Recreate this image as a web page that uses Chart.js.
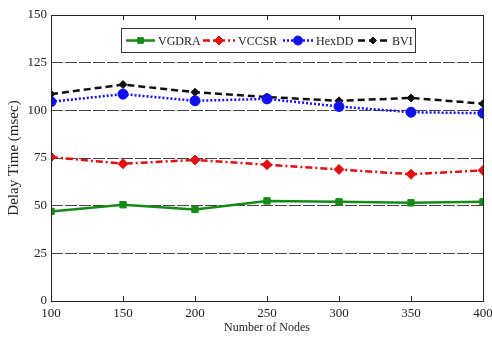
<!DOCTYPE html>
<html>
<head>
<meta charset="utf-8">
<script src="https://cdn.jsdelivr.net/npm/chart.js@4/dist/chart.umd.min.js"></script>
<style>
  html, body { margin: 0; padding: 0; background: #fff; }
  #wrap { width: 492px; height: 337px; }
</style>
</head>
<body>
<div id="wrap"><canvas id="chart"></canvas></div>
<script>
// --- data ---
var nodes = [100, 150, 200, 250, 300, 350, 400];
var vgdra = [47, 50.5, 48, 52.5, 52, 51.5, 52];
var vccsr = [75.5, 72, 74, 71.5, 69, 66.5, 68.5];
var hexdd = [104.5, 108.5, 105, 106, 102, 99, 98.5];
var bvi = [108.5, 113.5, 109.5, 107, 105, 106.5, 103.5];
var yTicks = [0, 25, 50, 75, 100, 125, 150];

var FONT = '"Liberation Serif", "DejaVu Serif", serif';

function series(label, values, color, dash, marker, size) {
  return {
    label: label,
    data: values.map(function(v, i) { return { x: nodes[i], y: v }; }),
    borderColor: color,
    backgroundColor: color,
    borderWidth: 2.5,
    borderDash: dash,
    pointStyle: marker,
    pointRadius: size,
    pointBorderWidth: 1,
    tension: 0
  };
}

// legend slots: [line start, line end, text x]
var legendSlots = [[126, 155, 158], [203, 235, 238], [283, 313, 316], [358, 388, 392]];

// frame, inward x ticks and the legend box inside the plot
var boxPlugin = {
  id: 'boxPlugin',
  afterDatasetsDraw: function(chart) {
    var ctx = chart.ctx, a = chart.chartArea, xs = chart.scales.x;
    ctx.save();
    ctx.strokeStyle = '#222';
    ctx.lineWidth = 1;
    ctx.setLineDash([]);
    ctx.strokeRect(Math.round(a.left) + 0.5, Math.round(a.top) + 0.5,
      Math.round(a.right - a.left), Math.round(a.bottom - a.top));
    nodes.forEach(function(n) {
      var px = Math.round(xs.getPixelForValue(n)) + 0.5;
      ctx.beginPath();
      ctx.moveTo(px, a.top); ctx.lineTo(px, a.top + 5);
      ctx.moveTo(px, a.bottom); ctx.lineTo(px, a.bottom - 5);
      ctx.stroke();
    });

    var lx = 121, ly = 28, lw = 294, lh = 24;
    ctx.fillStyle = '#fff';
    ctx.fillRect(lx, ly, lw, lh);
    ctx.strokeStyle = '#333';
    ctx.strokeRect(lx + 0.5, ly + 0.5, lw, lh);
    ctx.font = '12px ' + FONT;
    ctx.textBaseline = 'middle';
    var cy = ly + lh / 2 + 0.5;
    chart.data.datasets.forEach(function(ds, i) {
      var s = legendSlots[i];
      ctx.strokeStyle = ds.borderColor;
      ctx.lineWidth = 2.5;
      ctx.setLineDash(ds.borderDash || []);
      ctx.beginPath();
      ctx.moveTo(s[0], cy); ctx.lineTo(s[1], cy);
      ctx.stroke();
      ctx.setLineDash([]);
      ctx.fillStyle = ds.borderColor;
      ctx.lineWidth = 1;
      Chart.helpers.drawPoint(ctx, {
        pointStyle: ds.pointStyle, radius: ds.pointRadius - 0.5, borderWidth: 1
      }, (s[0] + s[1]) / 2, cy);
      ctx.fillStyle = '#222';
      ctx.fillText(ds.label, s[2], cy + 1);
    });
    ctx.restore();
  }
};

new Chart(document.getElementById('chart').getContext('2d'), {
  type: 'line',
  data: {
    datasets: [
      series('VGDRA', vgdra, '#168a16', [], 'rect', 4.5),
      series('VCCSR', vccsr, '#e01010', [7, 3, 2, 3], 'rectRot', 5),
      series('HexDD', hexdd, '#1010f0', [2, 2], 'circle', 5),
      series('BVI', bvi, '#111111', [7, 4], 'rectRot', 4)
    ]
  },
  options: {
    responsive: true,
    maintainAspectRatio: false,
    animation: false,
    layout: { padding: { top: 15, right: 9, left: 0, bottom: 0 } },
    plugins: {
      legend: { display: false },
      tooltip: { enabled: false }
    },
    scales: {
      x: {
        type: 'linear',
        min: 100,
        max: 400,
        afterBuildTicks: function(s) { s.ticks = nodes.map(function(v) { return { value: v }; }); },
        afterFit: function(s) { s.height = 36; s.paddingLeft = 0; s.paddingRight = 0; },
        grid: { display: false, drawTicks: false },
        border: { display: false },
        ticks: { color: '#222', font: { family: FONT, size: 13 }, padding: 5, maxRotation: 0 },
        title: { display: true, text: 'Number of Nodes', color: '#222', font: { family: FONT, size: 12 }, padding: { top: 1, bottom: 2 } }
      },
      y: {
        min: 0,
        max: 150,
        afterBuildTicks: function(s) { s.ticks = yTicks.map(function(v) { return { value: v }; }); },
        afterFit: function(s) { s.width = 51; },
        grid: {
          color: function(c) { return (c.tick.value === 0 || c.tick.value === 150) ? 'rgba(0,0,0,0)' : '#444'; },
          lineWidth: 1,
          drawTicks: false
        },
        border: { display: false, dash: [12, 2] },
        ticks: { color: '#222', font: { family: FONT, size: 13 }, padding: 4 },
        title: { display: true, text: 'Delay Time (msec)', color: '#222', font: { family: FONT, size: 15 }, padding: { top: 5, bottom: 0 } }
      }
    }
  },
  plugins: [boxPlugin]
});
</script>
</body>
</html>
